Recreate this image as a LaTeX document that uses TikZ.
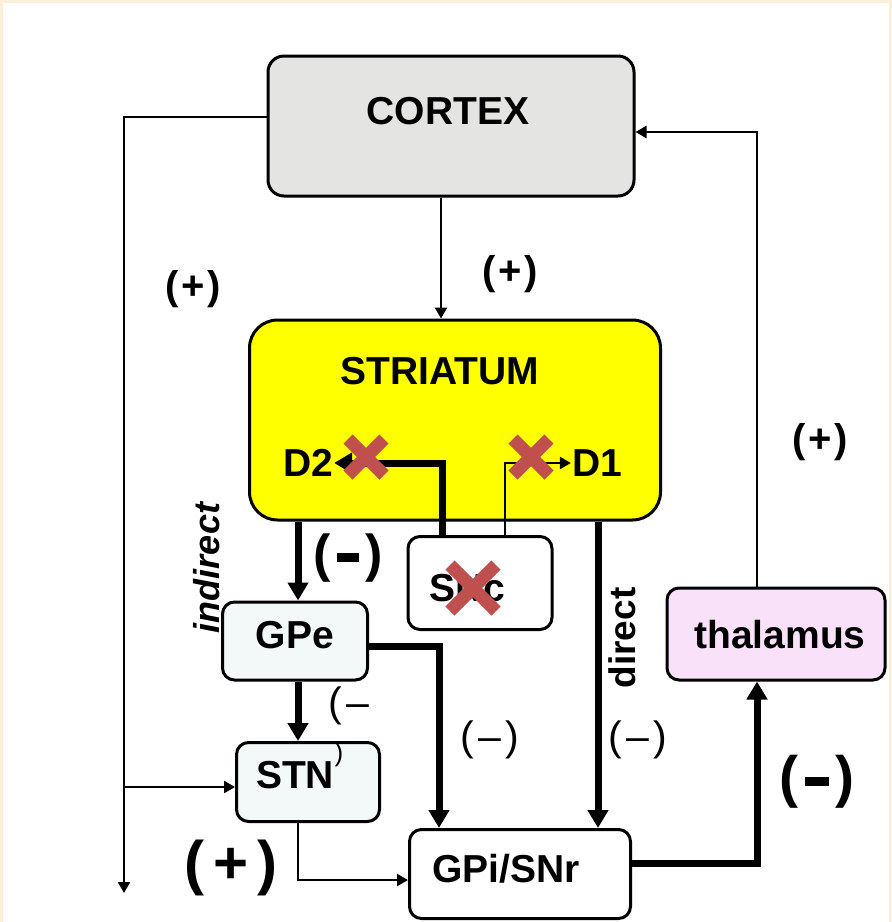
\documentclass[tikz,border=0pt]{standalone}
\usepackage{fontspec}
\setmainfont{Liberation Sans}
\usepackage{xcolor}
\usepackage{tikz}
\usetikzlibrary{arrows.meta,calc}

\definecolor{cortexgray}{HTML}{E4E4E2}
\definecolor{striatumyellow}{HTML}{FFFF00}
\definecolor{nucleusfill}{HTML}{F3F9F9}
\definecolor{thalpink}{HTML}{F9E2F9}
\definecolor{lesionred}{HTML}{C0504D}
\definecolor{framebeige}{HTML}{FCEFD9}

\tikzset{
  area/.style={draw=black,line width=3pt,rounded corners=12pt,inner sep=0pt},
  txt/.style={inner sep=1pt,font=\fontsize{39}{41}\selectfont\bfseries},
  thinlink/.style={line width=2.4pt,-{Triangle[length=11pt,width=12pt]}},
  thicklink/.style={line width=7pt,-{Triangle[length=18pt,width=20pt]}},
  sign/.style={inner sep=0pt,font=\fontsize{40}{42}\selectfont\bfseries},
  softsign/.style={inner sep=0pt,font=\fontsize{41}{43}\selectfont},
  lesion/.style={lesionred,line width=13pt},
}
\newcommand{\barminus}{\hspace{0.12em}\rule[0.18em]{0.42em}{0.17em}\hspace{0.12em}}

\begin{document}
\begin{tikzpicture}[x=1pt,y=-1pt]
  \useasboundingbox (0,0) rectangle (892,922);
  \fill[framebeige] (0,0) rectangle (892,922);
  \fill[white] (3,3) rectangle (889,922);
  % boxes
  \node[area,fill=cortexgray,minimum width=366pt,minimum height=140pt,rounded corners=16pt] (cortex) at (451,126) {};
  \node[txt] (cortextxt) at (448,111) {CORTEX};
  \node[area,fill=striatumyellow,minimum width=411pt,minimum height=200pt,rounded corners=28pt] (striatum) at (455,420) {};
  \node[txt] (striatumtxt) at (440,371) {STRIATUM};
  \node[txt] (d2) at (308,463) {D2};
  \node[txt] (d1) at (597,463) {D1};
  \node[area,fill=white,minimum width=144pt,minimum height=93pt] (snc) at (480,583) {};
  \node[txt] (snctxt) at (467,588) {SNc};
  \node[area,fill=nucleusfill,minimum width=145pt,minimum height=78pt] (gpe) at (295,641) {};
  \node[txt] (gpetxt) at (295,635) {GPe};
  \node[area,fill=nucleusfill,minimum width=143pt,minimum height=79pt] (stn) at (308,782) {};
  \node[txt] (stntxt) at (295,775) {STN};
  \node[area,fill=white,minimum width=221pt,minimum height=89pt] (gpi) at (520,874) {};
  \node[txt] (gpitxt) at (506,869) {GPi/SNr};
  \node[area,fill=thalpink,minimum width=218pt,minimum height=92pt] (thal) at (776,634) {};
  \node[txt] (thaltxt) at (780,635) {thalamus};
  % cortical loops
  \coordinate (leftend) at (124,893);
  \coordinate (stnin) at ($(stn.west)+(0,5)$);
  \draw[thinlink] ([yshift=9pt]cortex.west) -| (leftend);
  \draw[thinlink] (leftend |- stnin) -- (stnin);
  \draw[thinlink] ([xshift=-10pt]cortex.south) -- ([xshift=-10pt]cortex.south |- striatum.north);
  \draw[thinlink] ([xshift=-19pt]thal.north) |- ([yshift=-6pt]cortex.east);
  % dopamine input
  \draw[thicklink] ([xshift=-38pt]snc.north) |- (d2.east);
  \draw[thinlink] ([xshift=25pt]snc.north) |- (d1.west);
  % indirect pathway
  \draw[thicklink] ([xshift=3pt]gpe.north |- striatum.south) -- ([xshift=3pt]gpe.north);
  \draw[thicklink] ([xshift=3pt]gpe.south) -- ([xshift=3pt]gpe.south |- stn.north);
  \draw[thicklink] ([yshift=-5pt]gpe.east) -| ([xshift=-81pt]gpi.north);
  \draw[thinlink] ([xshift=-10pt]stn.south) |- ([yshift=-6pt]gpi.west);
  % direct pathway
  \draw[thicklink] ([xshift=78pt]gpi.north |- striatum.south) -- ([xshift=78pt]gpi.north);
  \draw[thicklink] ([yshift=11pt]gpi.east) -| ([xshift=-19pt]thal.south);
  % signs
  \node[sign] (plustop) at (510,274) {(\hspace{0.06em}+\hspace{0.06em})};
  \node[sign] (plusleft) at (193,289) {(\hspace{0.06em}+\hspace{0.06em})};
  \node[sign] (plusright) at (820,442) {(\hspace{0.06em}+\hspace{0.06em})};
  \node[sign,font=\fontsize{52}{54}\selectfont\bfseries] (minusgpe) at (348,558) {(\barminus)};
  \node[sign,font=\fontsize{57}{59}\selectfont\bfseries] (minusthal) at (817,782) {(\barminus)};
  \node[sign,font=\fontsize{60}{62}\selectfont\bfseries] (plusstn) at (231,868) {(\hspace{0.15em}+\hspace{0.15em})};
  \node[softsign] (minusstn) at (349,706) {(\hspace{0.1em}\textendash};
  \node[softsign,font=\fontsize{26}{28}\selectfont] (strayparen) at (339,755) {)};
  \node[softsign] (minusgpi) at (490,740) {(\hspace{0.1em}\textendash\hspace{0.1em})};
  \node[softsign] (minusdirect) at (638,740) {(\hspace{0.1em}\textendash\hspace{0.1em})};
  \node[rotate=90,inner sep=0pt,font=\fontsize{36}{38}\selectfont\bfseries\itshape] (indirect) at (207,568) {indirect};
  \node[rotate=90,inner sep=0pt,font=\fontsize{37}{39}\selectfont\bfseries] (direct) at (622,638) {direct};
  % lesion marks
  \foreach \cx/\cy/\r in {366/457/18,531/457/18,473/588/23}
    \draw[lesion] (\cx-\r,\cy-\r) -- (\cx+\r,\cy+\r) (\cx-\r,\cy+\r) -- (\cx+\r,\cy-\r);
\end{tikzpicture}
\end{document}
